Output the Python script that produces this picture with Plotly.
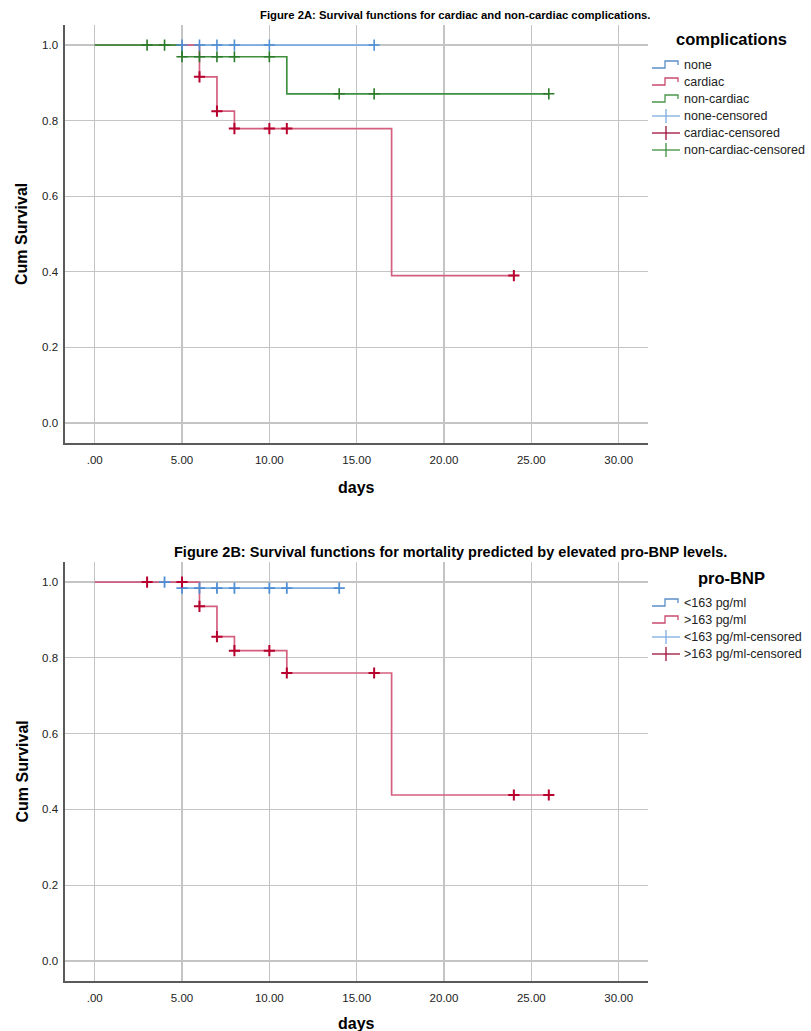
import plotly.graph_objects as go

W, H = 811, 1031

# ---------------- data ----------------
# Figure 2A: complications
none_events = []
none_surv = []
none_censored = [5, 6, 7, 8, 10, 16]

cardiac_events = [6, 7, 8, 17]
cardiac_surv = [0.916, 0.825, 0.779, 0.390]
cardiac_censored = [6, 7, 8, 10, 11, 24]

noncardiac_events = [5, 11]
noncardiac_surv = [0.969, 0.871]
noncardiac_censored = [3, 4, 5, 6, 7, 8, 10, 14, 16, 26]

# Figure 2B: pro-BNP
low_events = [5]
low_surv = [0.984]
low_censored = [4, 5, 6, 7, 8, 10, 11, 14]

high_events = [6, 7, 8, 11, 17]
high_surv = [0.936, 0.856, 0.819, 0.760, 0.438]
high_censored = [3, 5, 6, 7, 8, 10, 11, 16, 24, 26]

x_tick_vals = [0, 5, 10, 15, 20, 25, 30]
x_tick_labels = [".00", "5.00", "10.00", "15.00", "20.00", "25.00", "30.00"]
y_tick_vals = [0.0, 0.2, 0.4, 0.6, 0.8, 1.0]
y_tick_labels = ["0.0", "0.2", "0.4", "0.6", "0.8", "1.0"]

groups_a = ["none", "cardiac", "non-cardiac"]
groups_b = ["<163 pg/ml", ">163 pg/ml"]

# ---------------- styles ----------------
BLUE_LINE, BLUE_MARK = "#7eaee0", "#4f8fd4"
RED_LINE, RED_MARK = "#d3607f", "#b8002e"
GREEN_LINE, GREEN_MARK = "#3f8f3f", "#2a7a2a"
GRID = "#c4c4c4"
AXIS = "#5a5a5a"
FONT = "Liberation Sans, Arial, sans-serif"
NARROW = "Liberation Sans Narrow, Arial Narrow, Liberation Sans, sans-serif"


def pxx(p):
    return p / W


def pxy(p):
    return 1 - p / H


def step_xy(events, surv, censored):
    end = max(list(events) + list(censored))
    xs, ys = [0], [1.0]
    for t, s in zip(events, surv):
        xs.append(t)
        ys.append(s)
    xs.append(end)
    ys.append(ys[-1])
    return xs, ys


def surv_at(t, events, surv):
    s = 1.0
    for te, se in zip(events, surv):
        if te <= t:
            s = se
    return s


fig = go.Figure()

panels = [
    ("x", "y", [
        (none_events, none_surv, none_censored, BLUE_LINE, BLUE_MARK, 1.6),
        (cardiac_events, cardiac_surv, cardiac_censored, RED_LINE, RED_MARK, 2.0),
        (noncardiac_events, noncardiac_surv, noncardiac_censored, GREEN_LINE, GREEN_MARK, 1.6),
    ], groups_a),
    ("x2", "y2", [
        (low_events, low_surv, low_censored, BLUE_LINE, BLUE_MARK, 1.8),
        (high_events, high_surv, high_censored, RED_LINE, RED_MARK, 2.0),
    ], groups_b),
]

for xa, ya, series, names in panels:
    for (ev, sv, cen, lc, mc, mw), nm in zip(series, names):
        xs, ys = step_xy(ev, sv, cen)
        fig.add_trace(go.Scatter(x=xs, y=ys, mode="lines", line=dict(color=lc, width=1.7, shape="hv"),
                                 xaxis=xa, yaxis=ya, name=nm, showlegend=False, hoverinfo="skip"))
    for (ev, sv, cen, lc, mc, mw), nm in zip(series, names):
        fig.add_trace(go.Scatter(x=cen, y=[surv_at(t, ev, sv) for t in cen], mode="markers",
                                 marker=dict(symbol="cross-thin", size=8, line=dict(color=mc, width=mw)),
                                 xaxis=xa, yaxis=ya, name=nm + "-censored", showlegend=False))

# plot areas (pixel geometry)
PL, PR = 65, 648
TOP_A, BOT_A = 25, 443
TOP_B, BOT_B = 562, 981
XR = [-1.7, 31.68]
YR = [-0.053, 1.053]

axis_common = dict(showgrid=True, gridcolor=GRID, gridwidth=1.3, zeroline=False, showline=True,
                   linecolor=AXIS, linewidth=1.6, ticks="outside", tickcolor="rgba(0,0,0,0)",
                   tickfont=dict(family=FONT, size=11.5, color="#222"), fixedrange=True)

fig.update_layout(
    width=W, height=H, margin=dict(l=0, r=0, t=0, b=0), paper_bgcolor="white", plot_bgcolor="white",
    showlegend=False,
    xaxis=dict(domain=[pxx(PL), pxx(PR)], range=XR, anchor="y", tickvals=x_tick_vals, ticktext=x_tick_labels,
               ticklen=6, **axis_common),
    yaxis=dict(domain=[pxy(BOT_A), pxy(TOP_A)], range=YR, anchor="x", tickvals=y_tick_vals, ticktext=y_tick_labels,
               ticklen=3, **axis_common),
    xaxis2=dict(domain=[pxx(PL), pxx(PR)], range=XR, anchor="y2", tickvals=x_tick_vals, ticktext=x_tick_labels,
                ticklen=6, **axis_common),
    yaxis2=dict(domain=[pxy(BOT_B), pxy(TOP_B)], range=YR, anchor="x2", tickvals=y_tick_vals, ticktext=y_tick_labels,
                ticklen=3, **axis_common),
)

ann = []
shapes = []


def text(xp, yp, s, size, bold=False, family=FONT, xanchor="center", angle=0, color="#000"):
    ann.append(dict(x=pxx(xp), y=pxy(yp), xref="paper", yref="paper", text=("<b>%s</b>" % s) if bold else s,
                    showarrow=False, xanchor=xanchor, yanchor="middle", textangle=angle,
                    font=dict(family=family, size=size, color=color)))


# titles
text(455, 15, "Figure 2A: Survival functions for cardiac and non-cardiac complications.", 11.3, True, NARROW)
text(451, 552, "Figure 2B: Survival functions for mortality predicted by elevated pro-BNP levels.", 14.5, True, NARROW)

# axis titles
for top, bot, days_y in [(TOP_A, BOT_A, 487), (TOP_B, BOT_B, 1023)]:
    text(22, (top + bot) / 2, "Cum Survival", 16, True, angle=-90)
    text((PL + PR) / 2, days_y, "days", 16, True)

# legends
def legend(title, title_y, entries, first_y, dy=17):
    text(731, title_y, title, 16.5, True)
    for i, (label, color, kind) in enumerate(entries):
        y = first_y + i * dy
        if kind == "line":
            path = "M %f %f L %f %f L %f %f L %f %f L %f %f" % (
                pxx(652), pxy(y + 3), pxx(665), pxy(y + 3), pxx(665), pxy(y - 4),
                pxx(678), pxy(y - 4), pxx(678), pxy(y))
            shapes.append(dict(type="path", path=path, xref="paper", yref="paper",
                               line=dict(color=color, width=1.3)))
        else:
            shapes.append(dict(type="line", xref="paper", yref="paper", x0=pxx(652), x1=pxx(680),
                               y0=pxy(y), y1=pxy(y), line=dict(color=color, width=1.3)))
            shapes.append(dict(type="line", xref="paper", yref="paper", x0=pxx(666), x1=pxx(666),
                               y0=pxy(y - 7), y1=pxy(y + 7), line=dict(color=color, width=1.3)))
        text(682, y, label, 12.5, False, xanchor="left", color="#222")


legend("complications", 39, [
    (groups_a[0], "#5a8fc8", "line"), (groups_a[1], "#c94a6e", "line"), (groups_a[2], "#4a964a", "line"),
    (groups_a[0] + "-censored", BLUE_LINE, "cross"), (groups_a[1] + "-censored", "#a0103a", "cross"),
    (groups_a[2] + "-censored", GREEN_LINE, "cross"),
], 65)

legend("pro-BNP", 578, [
    (groups_b[0], "#5a8fc8", "line"), (groups_b[1], "#c94a6e", "line"),
    (groups_b[0] + "-censored", BLUE_LINE, "cross"), (groups_b[1] + "-censored", "#a0103a", "cross"),
], 603)

fig.update_layout(annotations=ann, shapes=shapes)

fig.write_html("out.html", config={"displayModeBar": False, "staticPlot": True},
               post_script="document.body.style.margin='0';document.body.style.overflow='hidden';")
